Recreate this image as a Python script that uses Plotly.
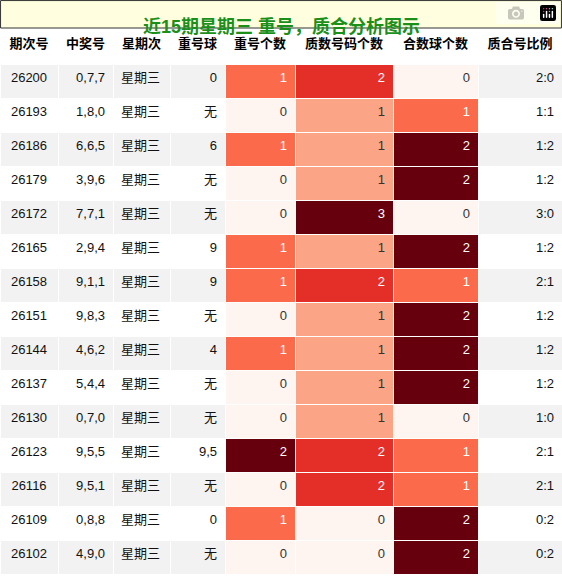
import plotly.graph_objects as go

periods = ["26200", "26193", "26186", "26179", "26172", "26165", "26158", "26151",
           "26144", "26137", "26130", "26123", "26116", "26109", "26102"]
draws = ["0,7,7", "1,8,0", "6,6,5", "3,9,6", "7,7,1", "2,9,4", "9,1,1", "9,8,3",
         "4,6,2", "5,4,4", "0,7,0", "9,5,5", "9,5,1", "0,8,8", "4,9,0"]
weekday = ["星期三"] * 15
repeat_ball = ["0", "无", "6", "无", "无", "9", "9", "无", "4", "无", "无", "9,5", "无", "0", "无"]
repeat_cnt = [1, 0, 1, 0, 0, 1, 1, 0, 1, 0, 0, 2, 0, 1, 0]
prime_cnt = [2, 1, 1, 1, 3, 1, 2, 1, 1, 1, 1, 2, 2, 0, 0]
comp_cnt = [0, 1, 2, 2, 0, 2, 1, 2, 2, 2, 0, 1, 1, 2, 2]
ratio = ["2:0", "1:1", "1:2", "1:2", "3:0", "1:2", "2:1", "1:2", "1:2", "1:2",
         "1:0", "2:1", "2:1", "0:2", "0:2"]

headers = ["期次号", "中奖号", "星期次", "重号球", "重号个数", "质数号码个数", "合数球个数", "质合号比例"]

scale2 = {0: "#fff5f0", 1: "#fb6a4a", 2: "#67000d"}
scale3 = {0: "#fff5f0", 1: "#fca486", 2: "#e32f27", 3: "#67000d"}

row_bg = ["#f2f2f2" if i % 2 == 0 else "white" for i in range(15)]
FONT = "Liberation Sans, Noto Sans CJK SC"

def txt_col(vals, dark_keys):
    return ["#333333" if v in dark_keys else "white" for v in vals]

fills = [row_bg, row_bg, row_bg, row_bg,
         [scale2[v] for v in repeat_cnt],
         [scale3[v] for v in prime_cnt],
         [scale2[v] for v in comp_cnt],
         row_bg]
fcolors = ["#111111"] * 4 + [txt_col(repeat_cnt, (0,)),
                             txt_col(prime_cnt, (0, 1)),
                             txt_col(comp_cnt, (0,)),
                             "#111111"]

fig = go.Figure(go.Table(
    columnwidth=[58, 55, 57, 55, 70, 98, 85, 84],
    header=dict(values=["<b>%s</b>" % h for h in headers], fill_color="white",
                line_color="white", align="center", height=36,
                font=dict(family=FONT, size=13, color="black")),
    cells=dict(values=[periods, draws, weekday, repeat_ball, repeat_cnt, prime_cnt, comp_cnt, ratio],
               fill_color=fills, line_color="white",
               align=["center", "right", "left", "right", "right", "right", "right", "right"],
               height=34, font=dict(family=FONT, size=13, color=fcolors)),
    domain=dict(x=[0, 1], y=[0, 1 - 28 / 576]),
))

fig.add_shape(type="rect", xref="paper", yref="paper", x0=0.001, x1=0.999, y0=1 - 28 / 576, y1=0.999,
              fillcolor="#ffffe0", line=dict(color="#333333", width=1))
fig.add_annotation(text="<b>近15期星期三 重号，质合分析图示</b>", xref="paper", yref="paper",
                   x=0.5, y=1 - 14 / 576, showarrow=False,
                   font=dict(family=FONT, size=18, color="#1a8f1a"))

fig.update_layout(width=562, height=576, margin=dict(l=0, r=0, t=0, b=0),
                  paper_bgcolor="white")
fig.write_html("out.html", post_script="document.body.style.margin='0';")
